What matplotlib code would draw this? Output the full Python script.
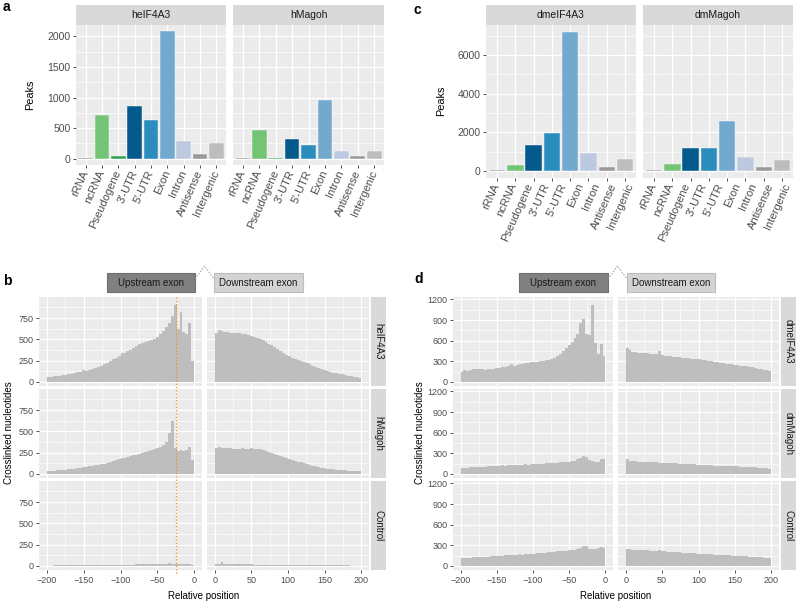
import numpy as np
import matplotlib
matplotlib.use("Agg")
import matplotlib.pyplot as plt
from matplotlib.patches import Rectangle
from matplotlib.lines import Line2D
from matplotlib.transforms import blended_transform_factory

plt.rcParams['font.family'] = ['Liberation Sans', 'DejaVu Sans']

W, H = 796, 602
BIN = 4  # nt per histogram bar

# ---- panel a / c : peak counts per category ----
categories = ["rRNA", "ncRNA", "Pseudogene", "3\u2032-UTR", "5\u2032-UTR",
              "Exon", "Intron", "Antisense", "Intergenic"]
cat_colors = ["#8c8c8c", "#74c476", "#31a354", "#045a8d", "#2b8cbe",
              "#74a9cf", "#bdc9e1", "#9a9a9a", "#bdbdbd"]
heif4a3_peaks = [17, 716, 50, 854, 628, 2083, 292, 83, 259]
hmagoh_peaks = [17, 474, 17, 314, 220, 953, 132, 50, 121]

# drosophila panels have no pseudogene bar
dm_colors = [c for c, n in zip(cat_colors, categories) if n != "Pseudogene"]
dmeif4a3_peaks = [35, 295, 1335, 1960, 7196, 919, 208, 607]
dmmagoh_peaks = [35, 364, 1179, 1214, 2566, 728, 208, 590]

# ---- panel b / d : crosslinked nucleotides, 4-nt bins ----
up_edges = np.arange(-200, 1, BIN)
down_edges = np.arange(0, 201, BIN)

hs_eif4a3_up = [58, 62, 66, 70, 74, 80, 86, 92, 98, 105,
                112, 120, 140, 132, 142, 155, 165, 178, 192, 210,
                225, 245, 265, 285, 310, 335, 345, 360, 375, 395,
                420, 440, 455, 470, 485, 495, 510, 525, 560, 600,
                640, 690, 770, 900, 620, 820, 590, 560, 690, 250]
hs_eif4a3_down = [580, 610, 600, 590, 585, 575, 580, 570, 575, 565,
                  560, 555, 545, 530, 515, 500, 490, 470, 450, 430,
                  405, 385, 360, 340, 320, 300, 285, 270, 255, 245,
                  235, 222, 205, 190, 178, 165, 152, 140, 130, 120,
                  110, 102, 95, 88, 80, 72, 66, 60, 56, 50]
hs_magoh_up = [32, 35, 38, 42, 45, 48, 52, 56, 60, 64,
               70, 74, 80, 85, 90, 96, 100, 106, 112, 120,
               130, 140, 150, 160, 172, 182, 190, 198, 208, 218,
               228, 238, 248, 255, 265, 278, 292, 305, 320, 345,
               380, 480, 620, 300, 270, 285, 275, 280, 320, 160]
hs_magoh_down = [300, 320, 310, 305, 300, 300, 295, 298, 295, 300,
                 295, 298, 300, 292, 290, 295, 285, 270, 258, 245,
                 232, 220, 208, 195, 185, 175, 165, 155, 145, 135,
                 125, 115, 105, 97, 90, 82, 75, 70, 64, 60,
                 55, 52, 48, 45, 42, 40, 38, 36, 34, 32]
hs_ctrl_up = [5, 5, 6, 6, 6, 7, 7, 7, 8, 8,
              8, 9, 9, 10, 9, 10, 10, 11, 11, 12,
              12, 12, 13, 13, 14, 15, 14, 16, 16, 17,
              18, 18, 19, 20, 19, 20, 21, 20, 22, 22,
              23, 35, 24, 28, 22, 24, 22, 20, 21, 15]
hs_ctrl_down = [25, 28, 45, 25, 22, 22, 21, 20, 20, 19,
                19, 18, 18, 17, 17, 16, 16, 15, 15, 14,
                14, 13, 13, 12, 12, 12, 11, 11, 10, 10,
                10, 9, 9, 9, 8, 8, 8, 8, 7, 7,
                7, 7, 6, 6, 6, 6, 5, 5, 5, 5]

dm_eif4a3_up = [145, 175, 165, 170, 190, 195, 185, 185, 180, 190,
                195, 195, 200, 205, 210, 215, 225, 260, 235, 240,
                255, 260, 270, 275, 285, 290, 295, 300, 305, 315,
                325, 335, 350, 375, 410, 450, 490, 530, 580, 640,
                700, 850, 910, 700, 680, 1120, 560, 410, 550, 380]
dm_eif4a3_down = [500, 470, 440, 430, 425, 420, 425, 415, 410, 400,
                  410, 450, 390, 380, 375, 370, 365, 360, 362, 355,
                  350, 345, 340, 338, 335, 330, 320, 315, 305, 300,
                  295, 288, 280, 275, 268, 262, 255, 250, 242, 238,
                  230, 225, 218, 212, 205, 195, 188, 178, 168, 155]
dm_magoh_up = [85, 82, 90, 95, 100, 98, 105, 102, 108, 110,
               115, 112, 120, 122, 125, 120, 128, 125, 130, 128,
               135, 132, 138, 136, 140, 145, 142, 150, 148, 155,
               158, 160, 165, 162, 170, 168, 175, 180, 185, 195,
               210, 225, 255, 245, 205, 190, 175, 180, 210, 215]
dm_magoh_down = [215, 190, 185, 182, 178, 175, 175, 172, 170, 170,
                 168, 165, 162, 160, 160, 158, 155, 152, 150, 150,
                 145, 142, 140, 138, 135, 132, 130, 128, 128, 125,
                 122, 122, 120, 118, 117, 115, 115, 112, 110, 108,
                 106, 104, 100, 98, 95, 92, 90, 88, 82, 70]
dm_ctrl_up = [112, 118, 110, 120, 125, 130, 128, 130, 135, 132,
              140, 138, 145, 150, 148, 155, 152, 158, 162, 160,
              168, 165, 172, 175, 178, 180, 185, 188, 190, 195,
              198, 205, 208, 210, 215, 218, 222, 225, 228, 235,
              240, 255, 290, 295, 250, 240, 245, 255, 270, 260]
dm_ctrl_down = [250, 240, 238, 235, 232, 230, 228, 225, 222, 220,
                218, 225, 212, 210, 208, 205, 202, 200, 198, 195,
                192, 190, 188, 185, 180, 178, 175, 172, 170, 168,
                165, 162, 160, 158, 155, 152, 150, 148, 145, 142,
                140, 138, 135, 132, 130, 128, 125, 122, 118, 112]

ORANGE_X = -25

fig = plt.figure(figsize=(W / 100, H / 100), dpi=100)


def px_rect(x0, y0, x1, y1):
    return [x0 / W, 1 - y1 / H, (x1 - x0) / W, (y1 - y0) / H]


def gg_axes(x0, y0, x1, y1, fs):
    ax = fig.add_axes(px_rect(x0, y0, x1, y1))
    ax.set_facecolor('#EBEBEB')
    for s in ax.spines.values():
        s.set_visible(False)
    ax.set_axisbelow(True)
    ax.tick_params(which='major', length=2.5, width=0.6, color='#333333',
                   labelsize=fs, labelcolor='#4D4D4D', pad=1.5)
    ax.tick_params(which='minor', length=0, labelsize=fs + 0.5,
                   labelcolor='#4D4D4D', pad=4)
    return ax


def strip(x0, y0, x1, y1, label, fs, rot=0):
    sax = fig.add_axes(px_rect(x0, y0, x1, y1))
    sax.set_facecolor('#D9D9D9')
    sax.set_xticks([])
    sax.set_yticks([])
    for s in sax.spines.values():
        s.set_visible(False)
    sax.text(0.5, 0.5, label, rotation=rot, ha='center', va='center',
             fontsize=fs, color='#1A1A1A', transform=sax.transAxes)


def bar_facet(x0, x1, y0, y1, vals, colors, ymax, ymajor, yminor,
              labels, label_pos, left):
    ax = gg_axes(x0, y0, x1, y1, 7.5)
    ax.xaxis.remove_overlapping_locs = False
    n = len(vals)
    ax.bar(range(n), vals, width=0.9, color=colors, edgecolor='white',
           linewidth=0.3)
    ax.set_xlim(-0.6, n - 0.4)
    ax.set_ylim(-0.05 * ymax, 1.05 * ymax)
    ax.set_yticks(ymajor)
    ax.set_yticks(yminor, minor=True)
    ax.set_xticks(range(n), [''] * n)
    ax.set_xticks(label_pos, labels, minor=True)
    for t in ax.get_xticklabels(minor=True):
        t.set_rotation(66)
        t.set_ha('right')
        t.set_va('center')
        t.set_rotation_mode('anchor')
    ax.xaxis.grid(True, which='major', color='white', lw=0.9)
    ax.yaxis.grid(True, which='major', color='white', lw=0.9)
    ax.yaxis.grid(True, which='minor', color='white', lw=0.45)
    ax.tick_params(axis='y', which='minor', labelleft=False)
    if not left:
        ax.tick_params(axis='y', which='both', left=False, labelleft=False)
    return ax


def hist_facet(x0, x1, y0, y1, edges, vals, side, ylim, ymajor, yminor,
               show_x, show_y):
    ax = gg_axes(x0, y0, x1, y1, 6.5)
    ax.stairs(vals, edges, fill=True, color='#BEBEBE', lw=0)
    if side == 'up':
        ax.set_xlim(-210.5, 10.5)
        ax.set_xticks(np.arange(-200, 1, 50))
        ax.set_xticks(np.arange(-175, 0, 50), minor=True)
    else:
        ax.set_xlim(-10.5, 210.5)
        ax.set_xticks(np.arange(0, 201, 50))
        ax.set_xticks(np.arange(25, 200, 50), minor=True)
    ax.set_ylim(*ylim)
    ax.set_yticks(ymajor)
    ax.set_yticks(yminor, minor=True)
    ax.grid(True, which='major', color='white', lw=0.9)
    ax.grid(True, which='minor', color='white', lw=0.45)
    ax.tick_params(which='minor', labelbottom=False, labelleft=False)
    if not show_x:
        ax.tick_params(axis='x', which='both', bottom=False, labelbottom=False)
    if not show_y:
        ax.tick_params(axis='y', which='both', left=False, labelleft=False)
    return ax


# ---------------- panel a ----------------
a_max = max(heif4a3_peaks + hmagoh_peaks)
a_cols = [(76, 226), (233, 384)]
for (x0, x1), name, vals in zip(a_cols, ["heIF4A3", "hMagoh"],
                                [heif4a3_peaks, hmagoh_peaks]):
    strip(x0, 5, x1, 25, name, 7.5)
    bar_facet(x0, x1, 25, 165, vals, cat_colors, a_max,
              [0, 500, 1000, 1500, 2000], [250, 750, 1250, 1750],
              categories, np.arange(len(categories)), x0 == a_cols[0][0])
fig.text(30 / W, 1 - 95 / H, "Peaks", rotation=90, ha='center',
         va='center', fontsize=7.8)

# ---------------- panel c ----------------
c_max = max(dmeif4a3_peaks + dmmagoh_peaks)
c_cols = [(486, 636), (643, 793)]
c_label_pos = np.linspace(0, 7.3, len(categories))
for (x0, x1), name, vals in zip(c_cols, ["dmeIF4A3", "dmMagoh"],
                                [dmeif4a3_peaks, dmmagoh_peaks]):
    strip(x0, 5, x1, 25, name, 7.5)
    bar_facet(x0, x1, 25, 178, vals, dm_colors, c_max,
              [0, 2000, 4000, 6000], [1000, 3000, 5000, 7000],
              categories, c_label_pos, x0 == c_cols[0][0])
fig.text(441 / W, 1 - 101 / H, "Peaks", rotation=90, ha='center',
         va='center', fontsize=7.8)

# ---------------- panels b and d ----------------
rows = [(297, 386), (389, 478), (481, 570)]


def exon_header(ux0, ux1, dx0, dx1):
    y0, y1 = 273, 292
    fig.patches.append(Rectangle((ux0 / W, 1 - y1 / H), (ux1 - ux0) / W,
                                 (y1 - y0) / H, transform=fig.transFigure,
                                 fc='#808080', ec='#6e6e6e', lw=0.8))
    fig.patches.append(Rectangle((dx0 / W, 1 - y1 / H), (dx1 - dx0) / W,
                                 (y1 - y0) / H, transform=fig.transFigure,
                                 fc='#D3D3D3', ec='#BDBDBD', lw=0.8))
    fig.text((ux0 + ux1) / 2 / W, 1 - (y0 + y1) / 2 / H, "Upstream exon",
             ha='center', va='center', fontsize=7, color='#1A1A1A')
    fig.text((dx0 + dx1) / 2 / W, 1 - (y0 + y1) / 2 / H, "Downstream exon",
             ha='center', va='center', fontsize=7, color='#1A1A1A')
    apex = (ux1 + dx0) / 2
    fig.add_artist(Line2D([ux1 / W, apex / W, dx0 / W],
                          [1 - 279 / H, 1 - 266 / H, 1 - 279 / H],
                          transform=fig.transFigure, color='#999999',
                          lw=0.6, ls=(0, (2, 1.5))))


def hist_block(cols, strip_x, names, series, ylim, ymajor, yminor):
    axes = []
    for r, ((y0, y1), name, (up, down)) in enumerate(zip(rows, names, series)):
        last = r == len(rows) - 1
        a_up = hist_facet(cols[0][0], cols[0][1], y0, y1, up_edges, up, 'up',
                          ylim, ymajor, yminor, last, True)
        hist_facet(cols[1][0], cols[1][1], y0, y1, down_edges, down, 'down',
                   ylim, ymajor, yminor, last, False)
        strip(strip_x[0], y0, strip_x[1], y1, name, 7, rot=270)
        axes.append(a_up)
    xmid = (cols[0][0] + cols[1][1]) / 2
    fig.text(xmid / W, 1 - 596 / H, "Relative position", ha='center',
             va='center', fontsize=7)
    return axes


b_cols = [(39, 202), (207, 369)]
b_axes = hist_block(b_cols, (371, 386), ["heIF4A3", "hMagoh", "Control"],
                    [(hs_eif4a3_up, hs_eif4a3_down),
                     (hs_magoh_up, hs_magoh_down),
                     (hs_ctrl_up, hs_ctrl_down)],
                    (-47.5, 997.5), [0, 250, 500, 750], [125, 375, 625, 875])
fig.text(9 / W, 1 - 433 / H, "Crosslinked nucleotides", rotation=90,
         ha='center', va='center', fontsize=7)
exon_header(107, 195, 214, 303)

# orange marker crossing all b rows
tr = blended_transform_factory(b_axes[0].transData, fig.transFigure)
fig.add_artist(Line2D([ORANGE_X, ORANGE_X], [1 - 297 / H, 1 - 574 / H],
                      transform=tr, color='#FF8C00', lw=0.9, ls=':',
                      zorder=10))

d_cols = [(453, 613), (618, 779)]
hist_block(d_cols, (781, 796), ["dmeIF4A3", "dmMagoh", "Control"],
           [(dm_eif4a3_up, dm_eif4a3_down),
            (dm_magoh_up, dm_magoh_down),
            (dm_ctrl_up, dm_ctrl_down)],
           (-59, 1235), [0, 300, 600, 900, 1200], [150, 450, 750, 1050])
fig.text(420 / W, 1 - 433 / H, "Crosslinked nucleotides", rotation=90,
         ha='center', va='center', fontsize=7)
exon_header(519, 608, 627, 715)

# panel letters
for letter, x, y in [("a", 3, 7), ("c", 414, 10), ("b", 3, 281), ("d", 414, 279)]:
    fig.text(x / W, 1 - y / H, letter, ha='left', va='center',
             fontsize=10, fontweight='bold')

fig.savefig("out.png", dpi=100)
